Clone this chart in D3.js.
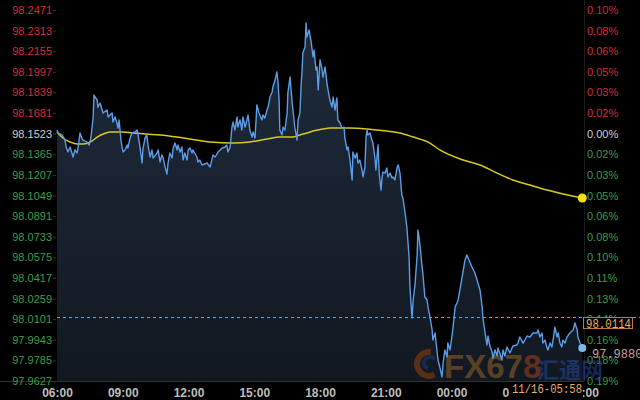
<!DOCTYPE html>
<html><head><meta charset="utf-8">
<script src="https://cdn.jsdelivr.net/npm/d3@7"></script>
<style>
html,body{margin:0;padding:0;background:#000;}
svg{display:block;}
</style></head><body>
<svg id="chart" width="640" height="400"></svg>
<script>
// ---------- data ----------
const times = [
"06:00","06:03","06:14","06:22","06:25","06:30","06:36","06:44","06:49","06:55",
"06:58","07:03","07:08","07:11","07:22","07:28","07:33","07:39","07:41","07:50",
"07:52","07:58","08:06","08:17","08:20","08:31","08:33","08:39","08:44","08:47",
"08:50","08:55","08:58","09:01","09:06","09:12","09:14","09:20","09:25","09:34",
"09:39","09:42","09:47","09:53","09:55","10:01","10:06","10:09","10:15","10:20",
"10:23","10:34","10:37","10:42","10:47","10:50","10:56","11:01","11:04","11:09",
"11:15","11:18","11:23","11:29","11:31","11:37","11:42","11:45","11:50","11:56",
"11:59","12:04","12:10","12:12","12:23","12:26","12:31","12:37","12:51","12:59",
"13:07","13:13","13:21","13:32","13:40","13:45","13:48","13:54","13:59","14:02",
"14:07","14:13","14:15","14:21","14:26","14:29","14:35","14:40","14:43","14:48",
"14:54","14:57","15:02","15:05","15:07","15:13","15:21","15:24","15:29","15:35",
"15:38","15:43","15:49","15:51","15:57","16:02","16:05","16:08","16:10","16:16",
"16:19","16:24","16:30","16:32","16:38","16:43","16:46","16:51","16:57","17:00",
"17:05","17:08","17:11","17:13","17:19","17:22","17:24","17:30","17:35","17:41",
"17:44","17:49","17:52","17:55","18:00","18:05","18:08","18:14","18:19","18:22",
"18:27","18:33","18:36","18:41","18:46","18:49","18:55","19:00","19:06","19:08",
"19:14","19:17","19:22","19:28","19:30","19:36","19:41","19:44","19:49","19:55",
"19:58","20:03","20:06","20:09","20:11","20:17","20:22","20:25","20:31","20:33",
"20:36","20:39","20:42","20:47","20:50","20:52","20:58","21:03","21:06","21:12",
"21:17","21:20","21:25","21:31","21:34","21:39","21:44","21:47","21:53","21:58",
"22:01","22:04","22:06","22:09","22:12","22:15","22:20","22:26","22:28","22:31",
"22:36","22:39","22:42","22:47","22:53","22:56","23:01","23:07","23:09","23:15",
"23:20","23:23","23:28","23:34","23:37","23:42","23:48","23:50","23:56","00:01",
"00:04","00:10","00:15","00:18","00:23","00:29","00:37","00:42","00:48","00:56",
"01:04","01:10","01:18","01:24","01:26","01:32","01:37","01:40","01:45","01:51",
"01:54","01:59","02:05","02:07","02:13","02:18","02:21","02:26","02:32","02:40",
"02:48","02:59","03:02","03:07","03:16","03:27","03:35","03:43","03:54","03:57",
"04:02","04:08","04:10","04:16","04:21","04:24","04:30","04:35","04:38","04:43",
"04:49","04:52","04:57","05:02","05:05","05:11","05:16","05:24","05:33","05:38",
"05:44","05:46","05:52","05:58"
];
const prices = [
98.1551,98.1528,98.1513,98.1474,98.1421,98.1382,98.1421,98.1344,98.1398,98.1375,
98.1421,98.1528,98.1490,98.1474,98.1459,98.1436,98.1497,98.1651,98.1819,98.1781,
98.1727,98.1758,98.1681,98.1704,98.1651,98.1681,98.1612,98.1651,98.1605,98.1566,
98.1628,98.1474,98.1421,98.1382,98.1398,98.1436,98.1413,98.1490,98.1528,98.1536,
98.1551,98.1513,98.1421,98.1298,98.1398,98.1490,98.1513,98.1436,98.1344,98.1398,
98.1336,98.1375,98.1398,98.1306,98.1359,98.1344,98.1267,98.1214,98.1298,98.1375,
98.1336,98.1413,98.1451,98.1398,98.1436,98.1382,98.1421,98.1321,98.1375,98.1321,
98.1398,98.1413,98.1375,98.1398,98.1344,98.1306,98.1321,98.1283,98.1298,98.1267,
98.1359,98.1344,98.1382,98.1413,98.1421,98.1436,98.1382,98.1421,98.1574,98.1612,
98.1551,98.1651,98.1574,98.1628,98.1551,98.1651,98.1574,98.1628,98.1666,98.1551,
98.1497,98.1536,98.1490,98.1628,98.1743,98.1681,98.1628,98.1666,98.1643,98.1704,
98.1727,98.1804,98.1842,98.1881,98.1934,98.1996,98.1919,98.1781,98.1551,98.1513,
98.1574,98.1551,98.1681,98.1835,98.1957,98.1781,98.1704,98.1574,98.1474,98.1628,
98.1681,98.1881,98.2011,98.2141,98.2187,98.2371,98.2264,98.2318,98.2241,98.2111,
98.2164,98.2011,98.2034,98.1858,98.2088,98.2026,98.1957,98.2034,98.1911,98.1858,
98.1781,98.1727,98.1804,98.1704,98.1796,98.1628,98.1605,98.1566,98.1574,98.1490,
98.1398,98.1421,98.1321,98.1168,98.1382,98.1336,98.1375,98.1298,98.1321,98.1244,
98.1191,98.1267,98.1497,98.1551,98.1513,98.1528,98.1474,98.1451,98.1321,98.1244,
98.1344,98.1436,98.1221,98.1091,98.1191,98.1229,98.1221,98.1260,98.1191,98.1221,
98.1183,98.1191,98.1168,98.1260,98.1283,98.1221,98.1053,98.1030,98.0915,98.0800,
98.0685,98.0570,98.0363,98.0225,98.0110,98.0248,98.0363,98.0593,98.0785,98.0731,
98.0608,98.0516,98.0440,98.0271,98.0248,98.0187,98.0118,98.0018,97.9941,97.9995,
97.9865,97.9788,97.9734,97.9658,97.9765,97.9865,97.9811,97.9918,97.9865,97.9964,
98.0033,98.0194,98.0225,98.0248,98.0325,98.0424,98.0555,98.0593,98.0555,98.0501,
98.0455,98.0401,98.0325,98.0194,98.0110,97.9995,97.9903,97.9972,97.9895,97.9849,
97.9803,97.9865,97.9819,97.9880,97.9834,97.9788,97.9865,97.9819,97.9888,97.9842,
97.9895,97.9903,97.9918,97.9964,97.9918,97.9972,97.9964,97.9995,97.9995,98.0018,
97.9964,97.9995,97.9918,97.9941,97.9888,97.9865,97.9918,97.9888,97.9941,98.0041,
97.9964,97.9995,97.9918,97.9888,97.9941,97.9918,97.9964,97.9995,98.0018,98.0072,
98.0018,97.9964,97.9918,97.9880
];
const maTimes = ["06:00","06:16","06:36","06:55","07:11","07:25","07:36","07:50","08:06","08:25",
"08:44","09:01","09:28","10:06","10:42","11:29","12:04","12:59","14:02","14:48",
"15:35","16:10","16:46","17:05","17:24","17:41","18:08","18:27","19:22","20:09",
"21:03","21:39","22:15","23:01","23:28","00:32","01:18","02:05","02:48","03:35",
"04:21","05:05","05:58"];
const maValues = [98.1536,98.1490,98.1459,98.1444,98.1444,98.1451,98.1467,98.1497,98.1520,98.1536,
98.1536,98.1536,98.1528,98.1520,98.1513,98.1497,98.1482,98.1459,98.1451,98.1459,
98.1482,98.1497,98.1497,98.1513,98.1528,98.1543,98.1559,98.1566,98.1566,98.1559,
98.1543,98.1528,98.1497,98.1451,98.1398,98.1321,98.1283,98.1221,98.1168,98.1129,
98.1091,98.1061,98.1030];
const leftTicks = [98.2471,98.2313,98.2155,98.1997,98.1839,98.1681,98.1523,98.1365,98.1207,98.1049,
98.0891,98.0733,98.0575,98.0417,98.0259,98.0101,97.9943,97.9785,97.9627];
const pctLabels = ["0.10%","0.08%","0.06%","0.05%","0.03%","0.02%","0.00%","0.02%","0.03%","0.05%",
"0.06%","0.08%","0.10%","0.11%","0.13%","0.14%","0.16%","0.18%","0.19%"];
const baseValue = 98.1523;
const markerValue = 98.0114;
const lastPrice = 97.9880;
const lastTimeLabel = "11/16-05:58";
const startTime = "06:00";
const endTime = "06:00";

// ---------- helpers ----------
function parseT(s, isEnd){
  const [h,m] = s.split(":").map(Number);
  const day = (isEnd || h < 6) ? 16 : 15;
  return new Date(2015, 10, day, h, m);
}
const priceData = d3.zip(times, prices).map(([t,v]) => ({t: parseT(t), v}));
const maData = d3.zip(maTimes, maValues).map(([t,v]) => ({t: parseT(t), v}));

const svg = d3.select("#chart");
const L = 57, R = 583, T = 10, B = 381;

const x = d3.scaleTime().domain([parseT(startTime), parseT(endTime, true)]).range([L, R]);
const y = d3.scaleLinear().domain([leftTicks[leftTicks.length-1], leftTicks[0]]).range([B, T]);

svg.append("rect").attr("width",640).attr("height",400).attr("fill","#000");

// gradient
const defs = svg.append("defs");
const grad = defs.append("linearGradient").attr("id","areaGrad")
  .attr("gradientUnits","userSpaceOnUse").attr("x1",0).attr("y1",20).attr("x2",0).attr("y2",B);
grad.append("stop").attr("offset","0%").attr("stop-color","#1f2b3c");
grad.append("stop").attr("offset","100%").attr("stop-color","#111821");
defs.append("clipPath").attr("id","plotClip").append("rect")
  .attr("x",L).attr("y",0).attr("width",R-L+2).attr("height",B);

// area under price
svg.append("path").datum(priceData)
  .attr("clip-path","url(#plotClip)")
  .attr("fill","url(#areaGrad)")
  .attr("d", d3.area().x(d=>x(d.t)).y0(B).y1(d=>y(d.v)));

// frame lines
svg.append("line").attr("x1",0).attr("x2",R+1).attr("y1",B+0.5).attr("y2",B+0.5).attr("stroke","#2c332c");
svg.append("line").attr("x1",R+1.5).attr("x2",R+1.5).attr("y1",0).attr("y2",B).attr("stroke","#1a1a1a");

const colorFor = v => Math.abs(v - baseValue) < 1e-6 ? "#d0d0d0" : (v > baseValue ? "#cf2f3a" : "#3a9d4a");

// left axis
const gL = svg.append("g").attr("transform",`translate(${L-1},0)`)
  .call(d3.axisLeft(y).tickValues(leftTicks).tickSize(3).tickPadding(1).tickFormat(d3.format(".4f")));
gL.select(".domain").remove();
gL.selectAll(".tick line").attr("stroke","#333");
gL.selectAll(".tick text").attr("fill", d=>colorFor(d))
  .style("font-family","'Liberation Sans', Arial, sans-serif").style("font-size","11px");

// right axis
const gR = svg.append("g").attr("transform",`translate(${R+1},0)`)
  .call(d3.axisRight(y).tickValues(leftTicks).tickSize(0).tickPadding(3).tickFormat((d,i)=>pctLabels[i]));
gR.select(".domain").remove();
gR.selectAll(".tick text").attr("fill", d=>colorFor(d))
  .style("font-family","'Liberation Sans', Arial, sans-serif").style("font-size","11px");

// bottom axis
const gB = svg.append("g").attr("transform",`translate(0,${B})`)
  .call(d3.axisBottom(x).ticks(d3.timeHour.every(3)).tickSize(0).tickPadding(7).tickFormat(d3.timeFormat("%H:%M")));
gB.select(".domain").remove();
gB.selectAll(".tick text").attr("fill","#bdbdbd")
  .style("font-family","'Liberation Sans', Arial, sans-serif").style("font-size","12px").style("font-weight","bold");

// watermark
const wm = svg.append("g").attr("opacity",0.6);
const arc = d3.arc();
wm.append("path").attr("transform","translate(429,364)")
  .attr("d", arc({innerRadius:9, outerRadius:15, startAngle:Math.PI*0.85, endAngle:Math.PI*2.05}))
  .attr("fill","#8a3e10");
wm.append("path").attr("transform","translate(430,363)")
  .attr("d", arc({innerRadius:4, outerRadius:8, startAngle:Math.PI*1.1, endAngle:Math.PI*2.3}))
  .attr("fill","#1c3468");
const wt = wm.append("text").attr("x",444).attr("y",378)
  .style("font-family","'Liberation Sans', Arial, sans-serif").style("font-size","33px").style("font-weight","bold");
wt.append("tspan").attr("fill","#8a5a28").text("FX67");
wt.append("tspan").attr("fill","#9a3c1c").text("8");
wm.append("text").attr("x",537).attr("y",378).attr("fill","#24448a")
  .style("font-family","'Noto Sans CJK SC', sans-serif").style("font-size","22px").style("font-weight","bold")
  .text("汇通网");

// moving average
svg.append("path").datum(maData)
  .attr("fill","none").attr("stroke","#d8c820").attr("stroke-width",1.5)
  .attr("d", d3.line().curve(d3.curveMonotoneX).x(d=>x(d.t)).y(d=>y(d.v)));
const lastMa = maData[maData.length-1];
svg.append("circle").attr("cx",x(lastMa.t)).attr("cy",y(lastMa.v)).attr("r",4.5).attr("fill","#f2e400");

// price line
svg.append("path").datum(priceData)
  .attr("fill","none").attr("stroke","#5b9de6").attr("stroke-width",1.4).attr("stroke-linejoin","round")
  .attr("d", d3.line().x(d=>x(d.t)).y(d=>y(d.v)));

// marker dashed line & label
const ym = Math.round(y(markerValue)) + 0.5;
svg.append("line").attr("x1",L).attr("x2",640).attr("y1",ym).attr("y2",ym)
  .attr("stroke","#e0883a").attr("stroke-width",1.2).attr("stroke-dasharray","3,3");
svg.append("rect").attr("x",R+0.5).attr("y",ym).attr("width",49).attr("height",11)
  .attr("fill","#000").attr("stroke","#c07a3a").attr("stroke-width",1);
svg.append("text").attr("x",R+3).attr("y",ym+10).attr("fill","#e8b070")
  .attr("textLength",45).attr("lengthAdjust","spacingAndGlyphs")
  .style("font-family","'Liberation Mono', 'DejaVu Sans Mono', monospace").style("font-size","12px")
  .text(d3.format(".4f")(markerValue));

// last price
const lastP = priceData[priceData.length-1];
svg.append("circle").attr("cx",x(lastP.t)).attr("cy",y(lastP.v)).attr("r",4).attr("fill","#7fb8ee");
svg.append("text").attr("x",592).attr("y",y(lastPrice)+10).attr("fill","#c9a0a0")
  .style("font-family","'Liberation Mono', 'DejaVu Sans Mono', monospace").style("font-size","12px")
  .text(d3.format(".4f")(lastPrice));

// time label
svg.append("rect").attr("x",509).attr("y",B+2).attr("width",74).attr("height",18).attr("fill","#000");
svg.append("text").attr("x",512).attr("y",B+12).attr("fill","#e6ae72")
  .attr("textLength",70).attr("lengthAdjust","spacingAndGlyphs")
  .style("font-family","'Liberation Mono', 'DejaVu Sans Mono', monospace").style("font-size","13px")
  .text(lastTimeLabel);
</script>
</body></html>
